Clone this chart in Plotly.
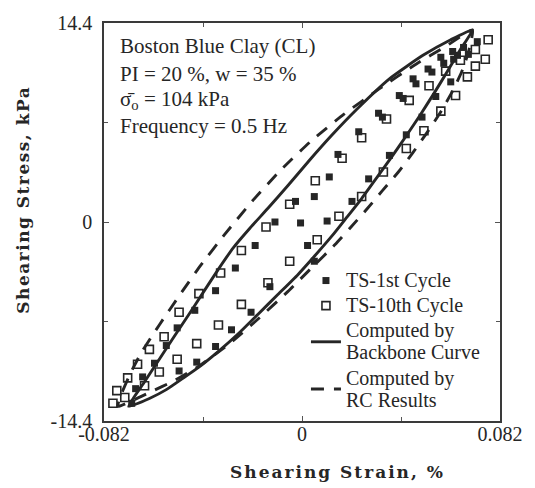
import plotly.graph_objects as go

# ---------------- data ----------------
# Computed by backbone curve (closed hysteresis loop: reloading branch then unloading branch)
bb_strain = [-0.0718, -0.0652, -0.0591, -0.0530, -0.0468, -0.0407, -0.0346, -0.0284, -0.0215, -0.0141,
             -0.0059, 0.0031, 0.0125, 0.0227, 0.0362, 0.0501, 0.0616, 0.0706,
             0.0656, 0.0603, 0.0546, 0.0489, 0.0432, 0.0370, 0.0309, 0.0247, 0.0186, 0.0125,
             0.0055, -0.0018, -0.0100, -0.0182, -0.0264, -0.0346, -0.0427, -0.0497, -0.0562,
             -0.0632, -0.0718]
bb_stress = [-13.34, -11.56, -9.93, -8.30, -6.67, -5.04, -3.41, -1.85, -0.43, 0.99,
             2.62, 4.47, 6.31, 8.16, 10.36, 12.06, 13.19, 13.90,
             12.48, 10.92, 9.29, 7.73, 6.24, 4.68, 3.19, 1.70, 0.35, -0.99,
             -2.41, -3.83, -5.25, -6.67, -8.09, -9.36, -10.50, -11.35, -12.13,
             -12.77, -13.34]

# Computed by RC results
rc_strain = [-0.0763, -0.0742, -0.0710, -0.0665, -0.0591, -0.0505, -0.0419, -0.0321, -0.0207, -0.0088,
             0.0035, 0.0174, 0.0321, 0.0472, 0.0595, 0.0706,
             0.0689, 0.0661, 0.0620, 0.0571, 0.0517, 0.0460, 0.0399, 0.0333, 0.0268, 0.0203,
             0.0137, 0.0043, -0.0059, -0.0182, -0.0305, -0.0427, -0.0530, -0.0632, -0.0693, -0.0763]
rc_stress = [-13.34, -12.20, -10.93, -9.44, -7.45, -5.25, -3.12, -0.92, 1.49, 3.76,
             5.82, 7.80, 9.65, 11.42, 12.70, 13.90,
             12.27, 10.85, 9.36, 7.87, 6.45, 5.04, 3.62, 2.27, 0.92, -0.36,
             -1.63, -3.26, -5.04, -7.02, -8.87, -10.43, -11.49, -12.34, -12.84, -13.34]

# TS - 1st cycle
ts1_strain = [0.0726, 0.0689, 0.0669, 0.0644, 0.0624, 0.0628, 0.0575, 0.0587, 0.0522, 0.0538,
              0.0460, 0.0472, 0.0403, 0.0419, 0.0317, 0.0333, 0.0235, 0.0149, 0.0113, 0.0051,
              -0.0027, -0.0112, -0.0194, -0.0276, -0.0358, -0.0444, -0.0517, -0.0562, -0.0611, -0.0660,
              -0.0689, -0.0705, 0.0616, 0.0554, 0.0497, 0.0432, 0.0362, 0.0276, 0.0207, 0.0104,
              -0.0006, 0.0023, 0.0051, -0.0133, -0.0211, -0.0292, -0.0358, -0.0436, -0.0509]
ts1_stress = [13.05, 12.13, 12.63, 12.06, 12.34, 11.78, 11.92, 11.49, 11.07, 10.85,
              10.36, 10.00, 9.15, 8.94, 7.87, 7.59, 6.53, 4.89, 3.26, 1.84,
              1.49, 0.00, -1.70, -3.33, -4.97, -6.39, -7.66, -8.94, -10.22, -11.21,
              -12.06, -13.12, 10.14, 9.08, 7.59, 6.31, 4.82, 3.12, 1.49, 0.07,
              -0.07, -1.70, -2.84, -4.68, -6.53, -7.80, -9.01, -10.14, -10.78]

# TS - 10th cycle
ts10_strain = [0.0771, 0.0759, 0.0718, 0.0718, 0.0685, 0.0636, 0.0656, 0.0595, 0.0526, 0.0444,
               0.0350, 0.0247, 0.0166, 0.0055, -0.0051, -0.0149, -0.0251, -0.0337, -0.0427, -0.0509,
               -0.0571, -0.0632, -0.0681, -0.0722, -0.0767, -0.0783, 0.0575, 0.0505, 0.0432, 0.0337,
               0.0247, 0.0153, 0.0063, -0.0051, -0.0141, -0.0251, -0.0346, -0.0436, -0.0517, -0.0591,
               -0.0652, -0.0734]
ts10_stress = [13.19, 11.78, 12.48, 11.28, 10.50, 9.15, 11.70, 10.92, 9.86, 8.80,
               7.45, 6.10, 4.61, 2.98, 1.28, -0.36, -2.06, -3.69, -5.18, -6.53,
               -8.30, -9.22, -10.29, -11.28, -12.20, -13.12, 8.02, 6.60, 5.32, 3.62,
               1.84, 0.42, -1.28, -2.84, -4.40, -5.96, -7.45, -8.80, -9.93, -10.85,
               -11.85, -12.70]

x_tickvals = [-0.082, 0, 0.082]
x_ticktext = ["-0.082", "0", "0.082"]
x_minorvals = [-0.041, 0.041]
y_tickvals = [-14.4, 0, 14.4]
y_ticktext = ["-14.4", "0", "14.4"]
y_minorvals = [-7.2, 7.2]

info_lines = ["Boston Blue Clay (CL)",
              "PI = 20 %, w = 35 %",
              "σ\u0304<sub>o</sub> = 104 kPa",
              "Frequency = 0.5 Hz"]

# ---------------- figure ----------------
INK = "#262626"
SERIF = "Liberation Serif, Times New Roman, serif"
GLYPH = 20  # displayed legend glyph size


def big(t):
    return "<span style=\"font-size:%dpx\">%s</span>" % (GLYPH, t)


fig = go.Figure()

fig.add_trace(go.Scatter(x=bb_strain, y=bb_stress, mode="lines",
                         name=big("Computed by") + "<br>" + big("Backbone Curve"), legendrank=3,
                         line=dict(color=INK, width=2.9, shape="spline", smoothing=0.5)))
fig.add_trace(go.Scatter(x=rc_strain, y=rc_stress, mode="lines",
                         name=big("Computed by") + "<br>" + big("RC Results"), legendrank=4,
                         line=dict(color=INK, width=2.9, dash="13px,10px",
                                   shape="spline", smoothing=0.5)))
fig.add_trace(go.Scatter(x=ts1_strain, y=ts1_stress, mode="markers",
                         name=big("TS-1st Cycle"), legendrank=1,
                         marker=dict(symbol="square", size=7, color=INK)))
fig.add_trace(go.Scatter(x=ts10_strain, y=ts10_stress, mode="markers",
                         name=big("TS-10th Cycle"), legendrank=2,
                         marker=dict(symbol="square-open", size=8, color=INK,
                                     line=dict(width=1.6, color=INK))))

# info text block
info_y = [0.942, 0.873, 0.806, 0.740]
for txt, yy in zip(info_lines, info_y):
    fig.add_annotation(text=txt, x=0.035, y=yy, xref="paper", yref="paper",
                       xanchor="left", yanchor="middle", showarrow=False,
                       font=dict(family=SERIF, size=21, color=INK))

# axis titles
fig.add_annotation(text="<b><span style=\"letter-spacing:2px\">Shearing Strain, %</span></b>",
                   x=0.59, y=-0.128,
                   xref="paper", yref="paper", xanchor="center", yanchor="middle",
                   showarrow=False,
                   font=dict(family="DejaVu Serif, serif", size=17, color=INK))
fig.add_annotation(text="<b><span style=\"letter-spacing:1.5px\">Shearing Stress, kPa</span></b>",
                   x=-0.2045, y=0.556,
                   xref="paper", yref="paper", xanchor="center", yanchor="middle",
                   textangle=-90, showarrow=False,
                   font=dict(family="DejaVu Serif, serif", size=17, color=INK))

axis_common = dict(showgrid=False, zeroline=False, showline=True, linecolor="#3a3a3a",
                   linewidth=1.5, mirror="ticks", ticks="inside", ticklen=5,
                   tickcolor="#555", tickfont=dict(family=SERIF, size=20, color=INK))

fig.update_layout(
    width=535, height=488,
    margin=dict(l=104, r=30, t=15, b=67),
    paper_bgcolor="white", plot_bgcolor="white",
    font=dict(family=SERIF, size=19, color=INK),
    showlegend=True,
    legend=dict(x=0.51, y=0.397, xanchor="left", yanchor="top",
                bgcolor="rgba(0,0,0,0)", borderwidth=0,
                font=dict(family=SERIF, size=17, color=INK),
                tracegroupgap=0, itemwidth=30, valign="middle"),
    xaxis=dict(range=[-0.082, 0.082], tickvals=x_tickvals, ticktext=x_ticktext,
               minor=dict(tickvals=x_minorvals, ticks="inside", ticklen=4, tickcolor="#555"),
               ticklabelstandoff=-6, **axis_common),
    yaxis=dict(range=[-14.4, 14.4], tickvals=y_tickvals, ticktext=y_ticktext,
               minor=dict(tickvals=y_minorvals, ticks="inside", ticklen=4, tickcolor="#555"),
               ticklabelstandoff=6, **axis_common),
)

fig.write_html("out.html")
